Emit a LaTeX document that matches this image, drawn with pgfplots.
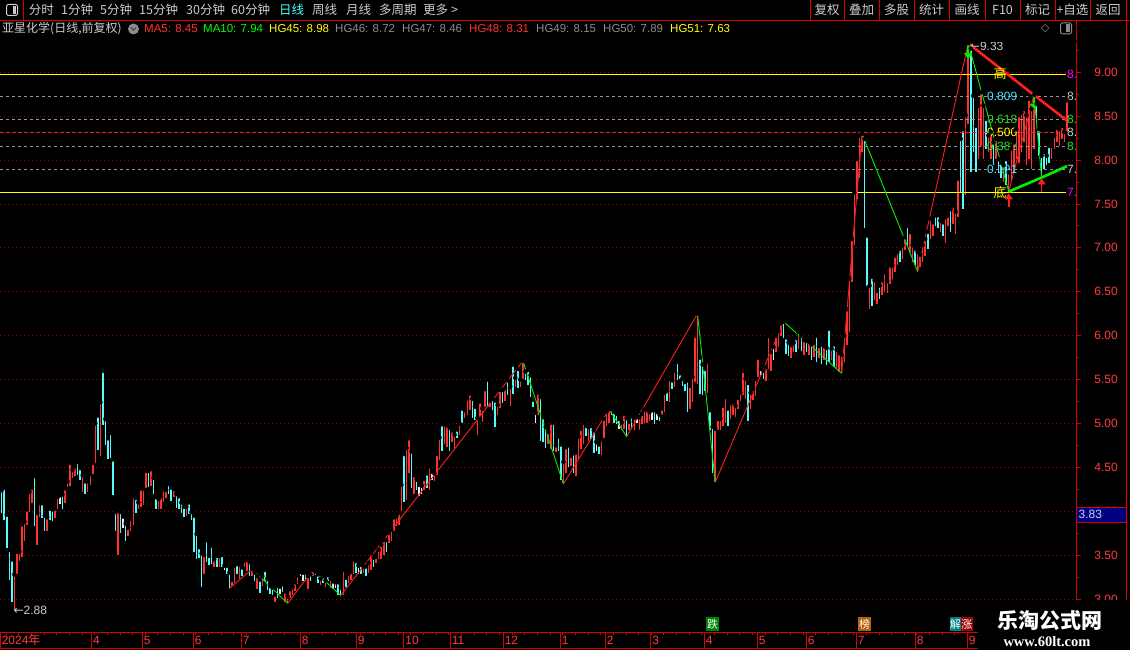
\documentclass[border=0pt]{standalone}
\usepackage{pgfplots}
\pgfplotsset{compat=1.18}
\usepackage{pgfplotstable}
\usepackage{fontspec}
\setmainfont{Liberation Sans}
\newfontfamily\cjk{Noto Sans CJK SC}
\newfontfamily\djv{DejaVu Sans}
\newfontfamily\wmserif{Liberation Serif}
\usetikzlibrary{arrows.meta}
\newcommand\fs[1]{\fontsize{#1}{#1}\selectfont}

\definecolor{uired}{RGB}{215,0,0}
\definecolor{lblred}{RGB}{255,60,60}
\definecolor{kred}{RGB}{255,50,50}
\definecolor{kcyan}{RGB}{84,252,252}
\definecolor{kwhite}{RGB}{235,235,235}
\definecolor{zzred}{RGB}{255,30,30}
\definecolor{zzgreen}{RGB}{0,240,0}
\definecolor{txtgray}{RGB}{205,205,205}
\definecolor{hggray}{RGB}{140,140,140}
\definecolor{gridred}{RGB}{150,0,0}
\definecolor{dashgray}{RGB}{150,150,150}
\definecolor{hgyellow}{RGB}{255,255,0}
\definecolor{hgmag}{RGB}{255,0,255}
\definecolor{fibcyan}{RGB}{80,225,255}
\definecolor{fibgreen}{RGB}{40,220,40}
\definecolor{navybox}{RGB}{0,0,128}
\definecolor{navytext}{RGB}{205,205,255}
\definecolor{malgreen}{RGB}{0,255,0}
\definecolor{tagdown}{RGB}{0,128,0}
\definecolor{tagrank}{RGB}{175,95,10}
\definecolor{tagteal}{RGB}{0,128,128}
\definecolor{tagup}{RGB}{160,0,0}

% daily bars: index, low, high, colour flag (1 up, 0 down, 2 flat)
\pgfplotstableread{
i lo hi c
0 3.98 4.24 0
1 3.90 4.27 0
2 3.58 3.96 0
3 3.22 3.56 0
4 2.97 3.45 0
5 2.88 3.28 1
6 3.29 3.54 1
7 3.43 3.54 1
8 3.48 3.85 1
9 3.66 3.88 1
10 3.84 4.02 1
11 3.99 4.22 1
12 4.09 4.27 1
13 3.83 4.40 0
14 3.62 3.98 1
15 3.93 4.09 1
16 3.92 4.09 0
17 3.78 3.95 0
18 3.77 3.93 1
19 3.90 4.03 0
20 3.89 4.02 0
21 3.92 4.03 1
22 4.02 4.16 1
23 4.08 4.18 2
24 4.03 4.19 0
25 4.09 4.26 1
26 4.27 4.34 1
27 4.29 4.55 1
28 4.38 4.47 1
29 4.40 4.51 1
30 4.41 4.56 0
31 4.36 4.49 0
32 4.22 4.41 1
33 4.20 4.34 0
34 4.22 4.34 1
35 4.30 4.42 1
36 4.42 4.55 1
37 4.55 5.00 1
38 4.70 5.09 0
39 4.63 5.24 1
40 4.98 5.60 0
41 4.75 5.05 0
42 4.59 4.83 0
43 4.61 4.89 0
44 4.19 4.59 0
45 3.78 3.99 0
46 3.50 4.00 1
47 3.75 3.99 0
48 3.81 3.94 2
49 3.66 3.86 0
50 3.72 3.81 1
51 3.78 3.91 1
52 3.84 4.17 1
53 3.98 4.15 0
54 4.02 4.10 1
55 4.05 4.26 1
56 4.07 4.26 1
57 4.26 4.46 1
58 4.27 4.46 0
59 4.29 4.48 1
60 4.20 4.38 0
61 4.03 4.16 0
62 4.02 4.14 1
63 4.03 4.17 1
64 4.10 4.25 1
65 4.15 4.24 1
66 4.20 4.31 0
67 4.12 4.27 0
68 4.16 4.25 1
69 4.04 4.20 0
70 4.02 4.17 0
71 3.98 4.10 0
72 3.93 4.05 0
73 3.94 4.05 1
74 3.97 4.10 0
75 3.90 3.99 0
76 3.54 3.95 0
77 3.45 3.74 0
78 3.47 3.59 0
79 3.14 3.52 0
80 3.29 3.50 1
81 3.42 3.67 0
82 3.39 3.49 0
83 3.40 3.61 0
84 3.36 3.45 1
85 3.36 3.49 0
86 3.37 3.49 1
87 3.37 3.50 0
88 3.33 3.38 2
89 3.28 3.38 0
90 3.12 3.30 0
91 3.15 3.22 1
92 3.18 3.38 1
93 3.29 3.40 0
94 3.23 3.39 1
95 3.26 3.36 0
96 3.36 3.44 1
97 3.32 3.45 1
98 3.26 3.42 0
99 3.26 3.34 1
100 3.20 3.30 0
101 3.11 3.26 1
102 3.07 3.22 0
103 3.15 3.26 1
104 3.20 3.33 0
105 3.10 3.23 0
106 3.06 3.15 0
107 3.05 3.13 0
108 2.97 3.05 1
109 3.01 3.15 0
110 3.06 3.14 2
111 3.08 3.17 0
112 2.97 3.08 1
113 2.95 3.03 1
114 3.01 3.11 1
115 3.05 3.14 1
116 3.09 3.19 1
117 3.17 3.27 1
118 3.26 3.31 0
119 3.21 3.30 2
120 3.20 3.30 0
121 3.11 3.26 1
122 3.20 3.28 0
123 3.26 3.33 1
124 3.27 3.31 0
125 3.18 3.28 0
126 3.16 3.23 1
127 3.18 3.26 0
128 3.14 3.21 1
129 3.20 3.27 0
130 3.13 3.23 1
131 3.11 3.20 2
132 3.13 3.19 2
133 3.04 3.19 0
134 3.04 3.13 0
135 3.05 3.33 1
136 3.14 3.24 0
137 3.18 3.29 1
138 3.22 3.31 1
139 3.29 3.45 1
140 3.30 3.43 0
141 3.28 3.38 2
142 3.28 3.39 0
143 3.30 3.37 1
144 3.26 3.37 0
145 3.30 3.41 1
146 3.33 3.52 1
147 3.37 3.47 0
148 3.41 3.48 1
149 3.45 3.56 1
150 3.45 3.62 1
151 3.50 3.67 1
152 3.54 3.67 0
153 3.64 3.75 1
154 3.66 3.79 1
155 3.77 3.93 1
156 3.83 3.94 1
157 3.84 3.98 1
158 4.00 4.30 1
159 4.11 4.65 0
160 4.13 4.72 1
161 4.43 4.83 1
162 4.26 4.68 0
163 4.20 4.41 1
164 4.24 4.36 0
165 4.17 4.30 2
166 4.20 4.29 2
167 4.24 4.37 1
168 4.26 4.43 0
169 4.24 4.51 1
170 4.36 4.45 2
171 4.34 4.43 1
172 4.41 4.65 1
173 4.58 4.84 1
174 4.69 4.99 0
175 4.77 4.99 1
176 4.73 4.98 1
177 4.68 4.95 0
178 4.79 4.92 1
179 4.72 4.87 1
180 4.83 4.93 0
181 4.87 5.00 1
182 5.00 5.17 0
183 5.06 5.15 1
184 5.09 5.28 1
185 5.15 5.34 1
186 5.06 5.28 0
187 5.04 5.19 0
188 4.87 5.06 1
189 5.08 5.25 1
190 5.02 5.17 1
191 5.19 5.39 1
192 5.19 5.50 0
193 5.19 5.26 1
194 5.15 5.28 0
195 4.96 5.26 0
196 5.09 5.21 1
197 5.17 5.38 1
198 5.23 5.38 0
199 5.25 5.40 1
200 5.32 5.49 0
201 5.20 5.42 1
202 5.33 5.67 0
203 5.42 5.52 1
204 5.40 5.62 0
205 5.42 5.50 1
206 5.50 5.71 1
207 5.49 5.59 0
208 5.44 5.61 0
209 5.30 5.55 0
210 5.19 5.27 0
211 5.00 5.12 2
212 5.09 5.35 1
213 4.80 5.30 0
214 4.79 5.07 0
215 4.72 4.96 0
216 4.77 4.90 1
217 4.71 5.01 1
218 4.69 5.01 0
219 4.67 4.75 1
220 4.68 4.85 0
221 4.36 4.76 0
222 4.31 4.56 1
223 4.44 4.73 1
224 4.50 4.75 0
225 4.52 4.63 1
226 4.44 4.66 0
227 4.40 4.67 1
228 4.60 4.85 1
229 4.71 4.94 1
230 4.77 5.01 1
231 4.86 4.97 0
232 4.80 4.96 1
233 4.82 4.97 0
234 4.66 4.92 0
235 4.69 4.79 2
236 4.65 4.76 0
237 4.64 4.82 1
238 4.83 5.05 1
239 4.97 5.13 1
240 5.01 5.16 1
241 5.09 5.16 2
242 5.01 5.13 0
243 4.99 5.11 0
244 4.94 5.05 2
245 4.92 5.01 1
246 4.94 5.11 1
247 4.85 5.06 0
248 4.92 5.02 1
249 4.94 5.08 0
250 4.92 5.07 1
251 5.00 5.07 2
252 4.93 5.07 1
253 4.99 5.11 1
254 5.01 5.16 1
255 5.01 5.16 1
256 5.03 5.13 1
257 5.04 5.15 2
258 4.99 5.15 0
259 5.04 5.13 2
260 5.03 5.10 0
261 5.09 5.17 1
262 5.13 5.35 1
263 5.26 5.37 0
264 5.24 5.51 1
265 5.39 5.49 0
266 5.41 5.60 1
267 5.49 5.70 0
268 5.50 5.57 0
269 5.43 5.51 0
270 5.37 5.47 0
271 5.13 5.49 0
272 5.16 5.43 1
273 5.24 5.53 1
274 5.47 6.00 1
275 5.45 6.25 1
276 5.34 5.75 0
277 5.32 5.67 0
278 5.37 5.62 0
279 5.35 5.70 1
280 4.92 5.15 0
281 4.44 4.96 0
282 4.33 4.94 1
283 4.92 5.05 1
284 4.93 5.05 1
285 4.97 5.20 1
286 5.01 5.30 1
287 4.97 5.17 0
288 5.05 5.23 1
289 5.09 5.24 1
290 5.07 5.20 1
291 5.16 5.29 1
292 5.26 5.35 1
293 5.32 5.60 1
294 5.28 5.51 1
295 5.03 5.46 0
296 5.16 5.35 1
297 5.27 5.39 1
298 5.31 5.51 1
299 5.53 5.75 1
300 5.55 5.62 2
301 5.51 5.60 0
302 5.48 5.64 1
303 5.62 6.00 1
304 5.60 5.81 1
305 5.72 5.87 2
306 5.81 6.00 1
307 5.87 6.05 1
308 6.00 6.14 1
309 5.97 6.16 0
310 5.79 5.98 0
311 5.77 5.92 0
312 5.75 5.89 1
313 5.81 5.92 1
314 5.81 5.97 0
315 5.85 6.04 1
316 5.83 6.00 0
317 5.78 5.95 1
318 5.81 5.94 0
319 5.78 5.93 1
320 5.72 5.90 0
321 5.76 5.92 1
322 5.70 6.00 0
323 5.75 5.88 1
324 5.68 5.90 0
325 5.72 5.88 1
326 5.66 5.86 0
327 5.70 6.08 0
328 5.72 5.85 1
329 5.64 5.90 0
330 5.62 5.84 1
331 5.58 5.80 1
332 5.57 5.78 1
333 5.70 6.00 1
334 5.89 6.30 1
335 6.04 6.65 1
336 6.61 7.10 1
337 7.03 7.63 1
338 7.56 8.01 1
339 7.79 8.28 1
340 8.09 8.30 1
341 7.22 8.24 0
342 6.57 7.14 0
343 6.30 6.57 1
344 6.34 6.67 0
345 6.40 6.63 1
346 6.36 6.51 1
347 6.42 6.57 0
348 6.46 6.63 1
349 6.50 6.72 1
350 6.48 6.62 1
351 6.59 6.80 1
352 6.65 6.80 1
353 6.72 6.91 1
354 6.80 6.95 1
355 6.84 6.99 0
356 6.87 7.03 1
357 6.97 7.12 1
358 7.03 7.25 0
359 6.95 7.18 1
360 6.84 7.03 1
361 6.80 6.99 0
362 6.73 6.95 1
363 6.78 6.92 1
364 6.84 7.03 1
365 6.91 7.10 1
366 6.99 7.18 0
367 7.10 7.33 1
368 7.14 7.29 1
369 7.25 7.37 0
370 7.22 7.37 0
371 7.18 7.31 1
372 7.14 7.29 0
373 7.06 7.35 1
374 7.25 7.37 1
375 7.18 7.44 0
376 7.27 7.48 1
377 7.16 7.41 1
378 7.35 7.79 1
379 7.63 8.24 0
380 7.44 8.35 0
381 7.60 8.51 1
382 8.41 9.33 1
383 7.86 9.27 0
384 8.09 8.73 0
385 7.86 8.39 0
386 8.01 8.62 1
387 8.16 8.77 1
388 8.01 8.62 1
389 8.13 8.47 0
390 8.09 8.28 1
391 8.01 8.32 1
392 7.94 8.20 0
393 8.01 8.24 1
394 7.86 8.01 0
395 7.79 7.97 0
396 7.75 7.94 1
397 7.71 8.01 0
398 7.64 7.86 1
399 7.75 8.13 1
400 7.86 8.20 1
401 8.01 8.35 1
402 7.97 8.51 1
403 8.09 8.54 1
404 8.20 8.58 1
405 7.94 8.51 1
406 8.01 8.70 1
407 7.90 8.58 1
408 8.13 8.74 1
409 8.47 8.64 0
410 8.05 8.35 0
411 7.80 8.05 0
412 7.90 8.09 0
413 7.94 8.05 0
414 7.97 8.16 0
415 8.01 8.16 1
416 8.13 8.28 1
417 8.20 8.37 1
418 8.16 8.35 1
419 8.24 8.39 1
420 8.20 8.32 1
421 8.32 8.68 1
}\candles

\pgfplotsset{
  candle/.style={only marks, mark=none, forget plot,
    /pgfplots/error bars/y dir=minus,
    /pgfplots/error bars/y explicit,
    /pgfplots/error bars/error mark=none,
    /pgfplots/error bars/error bar style={line width=1.5pt, #1}},
  level/.style={line width=0.9pt, forget plot}
}

\begin{document}
\begin{tikzpicture}[x=1pt,y=1pt]
\useasboundingbox (0,0) rectangle (1130,650);
\fill[black] (0,0) rectangle (1130,650);

\begin{axis}[
  at={(0,18)}, anchor=south west, scale only axis,
  width=1076pt, height=592pt,
  xmin=-0.67, xmax=424.6, ymin=2.599, ymax=9.342,
  axis x line=none, axis y line*=right,
  axis line style={uired, line width=0.8pt, -},
  ytick={3,3.5,...,9}, minor ytick={2.75,3.25,...,9.25},
  tick align=outside, major tick length=5pt, minor tick length=3pt,
  every tick/.style={uired, line width=0.8pt},
  ymajorgrids,
  major grid style={gridred, dash pattern=on 1pt off 3pt, line width=0.8pt},
  /pgf/number format/fixed, /pgf/number format/fixed zerofill,
  /pgf/number format/precision=2, /pgf/number format/assume math mode=true,
  yticklabel style={lblred, font=\fs{12}, anchor=east, inner sep=0pt, xshift=37pt},
]

% bars
\addplot[x filter/.expression={\thisrow{c}==1 ? x : nan}, candle=kred]
  table[x=i, y=hi, y error minus expr=\thisrow{hi}-\thisrow{lo}] {\candles};
\addplot[x filter/.expression={\thisrow{c}==0 ? x : nan}, candle=kcyan]
  table[x=i, y=hi, y error minus expr=\thisrow{hi}-\thisrow{lo}] {\candles};
\addplot[x filter/.expression={\thisrow{c}==2 ? x : nan}, candle=kwhite]
  table[x=i, y=hi, y error minus expr=\thisrow{hi}-\thisrow{lo}] {\candles};

% golden-section levels HG45..HG51
\addplot[level, hgyellow] coordinates {(-0.67,8.98) (420.7,8.98)};
\addplot[level, dashgray, dash pattern=on 3pt off 3pt] coordinates {(-0.67,8.72) (420.7,8.72)};
\addplot[level, dashgray, dash pattern=on 3pt off 3pt] coordinates {(-0.67,8.46) (420.7,8.46)};
\addplot[level, zzred, dash pattern=on 4pt off 2pt] coordinates {(-0.67,8.31) (420.7,8.31)};
\addplot[level, dashgray, dash pattern=on 3pt off 3pt] coordinates {(-0.67,8.15) (420.7,8.15)};
\addplot[level, dashgray, dash pattern=on 3pt off 3pt] coordinates {(-0.67,7.89) (420.7,7.89)};
\addplot[level, hgyellow] coordinates {(-0.67,7.63) (420.7,7.63)};

% zigzag: rising legs
\addplot[zzred, line width=0.9pt, unbounded coords=jump, forget plot] coordinates {
 (90,3.12) (99,3.34) (99,nan)
 (113,2.95) (123,3.33) (123,nan)
 (134,3.04) (206,5.71) (206,nan)
 (222,4.31) (240,5.16) (240,nan)
 (247,4.85) (275,6.25) (275,nan)
 (282,4.33) (309,6.16) (309,nan)
 (332,5.57) (340,8.30) (340,nan)
 (362,6.73) (382,9.33) (382,nan)
 (398,7.64) (408,8.74)};
% zigzag: falling legs
\addplot[zzgreen, line width=0.9pt, unbounded coords=jump, forget plot] coordinates {
 (99,3.34) (113,2.95) (113,nan)
 (123,3.33) (134,3.04) (134,nan)
 (206,5.71) (222,4.31) (222,nan)
 (240,5.16) (247,4.85) (247,nan)
 (275,6.25) (282,4.33) (282,nan)
 (309,6.16) (332,5.57) (332,nan)
 (340,8.30) (362,6.73) (362,nan)
 (382,9.33) (398,7.64) (398,nan)
 (408,8.74) (411,7.80)};

% pressure and support lines
\addplot[zzred, line width=2.6pt, forget plot] coordinates {(382,9.33) (408,8.74) (421,8.45)};
\addplot[zzgreen, line width=2.6pt, forget plot] coordinates {(398,7.64) (411,7.80) (421,7.93)};

% turn arrows
\addplot[zzgreen, line width=1.6pt, -{Triangle[width=8pt,length=6pt]}, forget plot] coordinates {(382,9.31) (382,9.15)};
\addplot[zzgreen, line width=1.6pt, -{Triangle[width=8pt,length=6pt]}, forget plot] coordinates {(408,8.73) (408,8.57)};
\addplot[zzred, line width=1.6pt, -{Triangle[width=8pt,length=6pt]}, forget plot] coordinates {(398,7.46) (398,7.62)};
\addplot[zzred, line width=1.6pt, -{Triangle[width=8pt,length=6pt]}, forget plot] coordinates {(411,7.63) (411,7.79)};

% labels
\node[anchor=west, txtgray, font=\fs{12}, inner sep=0pt] at (axis cs:4.6,2.865) {{\djv ←}2.88};
\node[anchor=west, txtgray, font=\fs{12}, inner sep=0pt] at (axis cs:382.6,9.30) {{\djv ←}9.33};
\node[anchor=west, fibcyan, font=\fs{12}, inner sep=0pt] at (axis cs:389.4,8.72) {0.809};
\node[anchor=west, fibgreen, font=\fs{12}, inner sep=0pt] at (axis cs:389.4,8.46) {0.618};
\node[anchor=west, hgyellow, font=\fs{12}, inner sep=0pt] at (axis cs:389.4,8.31) {0.500};
\node[anchor=west, fibgreen, font=\fs{12}, inner sep=0pt] at (axis cs:389.4,8.15) {0.382};
\node[anchor=west, fibcyan, font=\fs{12}, inner sep=0pt] at (axis cs:389.4,7.89) {0.191};
\node[hgyellow, font=\cjk\fs{13}, inner sep=0pt] at (axis cs:394.6,8.98) {高};
\node[hgyellow, font=\cjk\fs{13}, inner sep=0pt] at (axis cs:394.6,7.63) {底};
\node[anchor=west, hgmag, font=\fs{12}, inner sep=0pt] at (axis cs:421.0,8.98) {8.};
\node[anchor=west, txtgray, font=\fs{12}, inner sep=0pt] at (axis cs:421.0,8.72) {8.};
\node[anchor=west, fibgreen, font=\fs{12}, inner sep=0pt] at (axis cs:421.0,8.46) {8.};
\node[anchor=west, txtgray, font=\fs{12}, inner sep=0pt] at (axis cs:421.0,8.31) {8.};
\node[anchor=west, fibgreen, font=\fs{12}, inner sep=0pt] at (axis cs:421.0,8.15) {8.};
\node[anchor=west, txtgray, font=\fs{12}, inner sep=0pt] at (axis cs:421.0,7.89) {7.};
\node[anchor=west, hgmag, font=\fs{12}, inner sep=0pt] at (axis cs:421.0,7.63) {7.};
\end{axis}

% ---- header, row 1 ----
\draw[uired, line width=0.8pt] (0,630) -- (1130,630);
\draw[uired, line width=0.8pt] (23,630) -- (23,650);
\draw[txtgray, line width=1pt, rounded corners=1.5pt] (6.5,634.5) rectangle (17.5,645.5);
\fill[txtgray] (12.5,636) rectangle (16,644);
\begin{scope}[every node/.style={anchor=west, inner sep=0pt, txtgray, font=\cjk\fs{12.5}}]
\node at (28.6,640) {分时};
\node at (61,640) {1分钟};
\node at (100,640) {5分钟};
\node at (139,640) {15分钟};
\node at (186,640) {30分钟};
\node at (231,640) {60分钟};
\node[kcyan] at (279,640) {日线};
\node at (312,640) {周线};
\node at (346,640) {月线};
\node at (379,640) {多周期};
\node at (423,640) {更多 >};
\end{scope}
\foreach \s in {810,844,879,914.5,949,985,1020,1055,1090,1126.5}
  \draw[uired, line width=0.8pt] (\s,630) -- (\s,650);
\begin{scope}[every node/.style={inner sep=0pt, txtgray, font=\cjk\fs{12.5}}]
\node at (827,640) {复权};
\node at (861.5,640) {叠加};
\node at (896.7,640) {多股};
\node at (931.7,640) {统计};
\node at (967,640) {画线};
\node at (1002.5,640) {F10};
\node at (1037.5,640) {标记};
\node at (1072.5,640) {+自选};
\node at (1108,640) {返回};
\end{scope}

% ---- header, row 2 ----
\begin{scope}[every node/.style={anchor=west, inner sep=0pt, font=\fs{11.5}}]
\node[txtgray, font=\cjk\fs{12}] at (2,621) {亚星化学(日线,前复权)};
\node[kred] at (144,621) {MA5: 8.45};
\node[malgreen] at (203,621) {MA10: 7.94};
\node[hgyellow] at (269,621) {HG45: 8.98};
\node[hggray] at (335,621) {HG46: 8.72};
\node[hggray] at (402,621) {HG47: 8.46};
\node[kred] at (469,621) {HG48: 8.31};
\node[hggray] at (536,621) {HG49: 8.15};
\node[hggray] at (603,621) {HG50: 7.89};
\node[hgyellow] at (670,621) {HG51: 7.63};
\node[hggray, font=\djv\fs{11}] at (1041,621) {◇};
\end{scope}
\fill[hggray] (133.5,621) circle (5.5);
\draw[black!75, line width=1.1pt] (131,622.5) -- (133.5,619.8) -- (136,622.5);
\draw[hggray, line width=1pt, rounded corners=1.5pt] (1060.5,616) rectangle (1071.5,627);
\fill[hggray] (1066,617.5) rectangle (1069.5,625.5);

% ---- right price panel extras ----
\draw[uired, line width=0.8pt] (1076,610) -- (1076,630);
\draw[uired, line width=0.8pt] (1126.5,630) -- (1126.5,50);
\filldraw[fill=navybox, draw=uired, line width=0.8pt] (1076,128) rectangle (1126.5,143);
\node[anchor=west, inner sep=0pt, navytext, font=\fs{12}] at (1078.5,135.5) {3.83};

% ---- date bar ----
\draw[uired, line width=0.8pt] (0,18) -- (978,18);
\draw[uired, line width=0.8pt] (0,2) -- (978,2);
\foreach \k in {0,...,76}
  \draw[uired, line width=0.7pt] ({6+\k*12.65},18) -- ++(0,-3);
\foreach \s/\t in {0/2024{\cjk 年},91.4/4,142/5,193/6,241/7,300/8,356/9,403.6/10,450/11,503/12,560/1,605/2,650.5/3,704/4,757/5,806/6,856/7,915/8,967/9}{
  \draw[uired, line width=0.8pt] (\s,18) -- (\s,2);
  \node[anchor=west, inner sep=0pt, lblred, font=\fs{12}] at (\s+1.6,10) {\t};
}

% event tags above the date bar
\fill[tagdown] (706,19) rectangle (719,33);
\node[white, inner sep=0pt, font=\cjk\fs{11}] at (712.5,26) {跌};
\fill[tagrank] (858,19) rectangle (871,33);
\node[white, inner sep=0pt, font=\cjk\fs{11}] at (864.5,26) {榜};
\fill[tagteal] (950,19) rectangle (960.5,33);
\node[white, inner sep=0pt, font=\cjk\fs{11}] at (955.3,26) {解};
\fill[tagup] (960.5,19) rectangle (973,33);
\node[white, inner sep=0pt, font=\cjk\fs{11}] at (966.8,26) {涨};

% ---- site mark ----
\fill[black] (978,0) rectangle (1130,50);
\node[white, inner sep=0pt, font=\cjk\bfseries\fs{21}] at (1050,29) {乐淘公式网};
\node[white, inner sep=0pt, font=\wmserif\bfseries\fs{14.5}] at (1047,8.5) {www.60lt.com};
\end{tikzpicture}
\end{document}
